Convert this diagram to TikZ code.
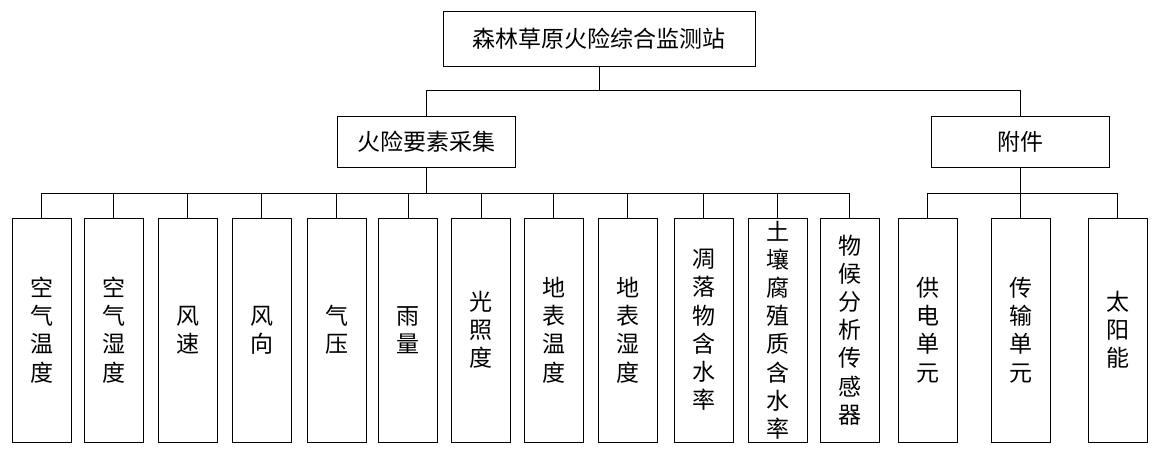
\documentclass[tikz,border=0pt]{standalone}
\usepackage{fontspec}
\newfontfamily\cjk{Noto Sans CJK SC}
\usepackage{tikz}
\usetikzlibrary{positioning}
\tikzset{
  head/.style={draw, thick, minimum height=51pt, align=center, font=\cjk\fontsize{23}{27}\selectfont},
  leaf/.style={draw, thick, minimum width=59pt, minimum height=224pt, inner sep=0pt, align=center, font=\cjk\fontsize{23}{28.2}\selectfont},
  link/.style={thick},
}

\begin{document}
\begin{tikzpicture}[x=1pt, y=-1pt]
\useasboundingbox (0,0) rectangle (1161,453);
\node[head, minimum width=312pt, minimum height=55pt] (root) at (599,38.5) {森林草原火险综合监测站};
\node[head, minimum width=178pt] (fire) at (426,142) {火险要素采集};
\node[head, minimum width=178pt] (acc) at (1020.5,142) {附件};
% sensors
\node[leaf] (s1) at (41.5,330) {空\\气\\温\\度};
\node[leaf] (s2) at (113.5,330) {空\\气\\湿\\度};
\node[leaf] (s3) at (187.5,330) {风\\速};
\node[leaf] (s4) at (261.5,330) {风\\向};
\node[leaf] (s5) at (336.5,330) {气\\压};
\node[leaf] (s6) at (408,330) {雨\\量};
\node[leaf] (s7) at (481,330) {光\\照\\度};
\node[leaf] (s8) at (553.5,330) {地\\表\\温\\度};
\node[leaf] (s9) at (627.5,330) {地\\表\\湿\\度};
\node[leaf] (s10) at (703.5,330) {凋\\落\\物\\含\\水\\率};
\node[leaf] (s11) at (777.5,330) {土\\壤\\腐\\殖\\质\\含\\水\\率};
\node[leaf] (s12) at (849.5,330) {物\\候\\分\\析\\传\\感\\器};
% accessories
\node[leaf] (a1) at (927.5,330) {供\\电\\单\\元};
\node[leaf] (a2) at (1020.5,330) {传\\输\\单\\元};
\node[leaf] (a3) at (1117.5,330) {太\\阳\\能};
\draw[link] (root.south) -- ++(0,24) -| (fire.north);
\draw[link] (root.south) -- ++(0,24) -| (acc.north);
\foreach \n in {s1,s2,s3,s4,s5,s6,s7,s8,s9,s10,s11,s12}
  \draw[link] (fire.south) -- ++(0,25) -| (\n.north);
\foreach \n in {a1,a2,a3}
  \draw[link] (acc.south) -- ++(0,25) -| (\n.north);
\end{tikzpicture}
\end{document}
